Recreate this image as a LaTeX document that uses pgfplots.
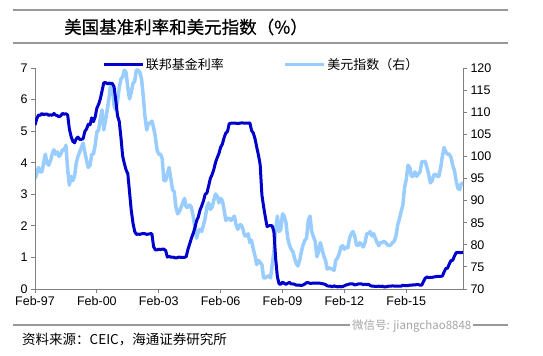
\documentclass[border=0pt]{standalone}
\usepackage{pgfplots}
\usepackage{pgfplotstable}
\pgfplotsset{compat=1.18}
\usepackage{fontspec}
\setmainfont{Liberation Sans}
\newfontfamily\cjk{Noto Sans CJK SC}
\newfontfamily\cjkb[FakeBold=0.6]{Noto Sans CJK SC}
\definecolor{fed}{HTML}{0000CC}
\definecolor{usd}{HTML}{99CCFF}
\definecolor{rulec}{HTML}{999999}
\definecolor{axc}{HTML}{808080}

% Effective federal funds rate, monthly, Feb-97 .. Nov-17 (index 0 = Feb-97)
\pgfplotstableread[row sep=\\]{v\\
5.19\\5.39\\5.51\\5.50\\5.56\\5.52\\5.54\\5.54\\5.50\\5.52\\5.50\\
5.56\\5.51\\5.49\\5.45\\5.49\\5.56\\5.54\\5.55\\5.51\\5.07\\4.83\\4.68\\
4.63\\4.76\\4.81\\4.74\\4.74\\4.76\\4.99\\5.07\\5.22\\5.20\\5.42\\5.30\\
5.45\\5.73\\5.85\\6.02\\6.27\\6.53\\6.54\\6.50\\6.52\\6.51\\6.51\\6.40\\
5.98\\5.49\\5.31\\4.80\\4.21\\3.97\\3.77\\3.65\\3.07\\2.49\\2.09\\1.82\\
1.73\\1.74\\1.73\\1.75\\1.75\\1.75\\1.73\\1.74\\1.75\\1.75\\1.34\\1.24\\
1.24\\1.26\\1.25\\1.26\\1.26\\1.22\\1.01\\1.03\\1.01\\1.01\\1.00\\0.98\\
1.00\\1.01\\1.00\\1.00\\1.00\\1.03\\1.26\\1.43\\1.61\\1.76\\1.93\\2.16\\
2.28\\2.50\\2.63\\2.79\\3.00\\3.04\\3.26\\3.50\\3.62\\3.78\\4.00\\4.16\\
4.29\\4.49\\4.59\\4.79\\4.94\\4.99\\5.24\\5.25\\5.25\\5.25\\5.25\\5.24\\
5.25\\5.26\\5.26\\5.25\\5.25\\5.25\\5.26\\5.02\\4.94\\4.76\\4.49\\4.24\\
3.94\\2.98\\2.61\\2.28\\1.98\\2.00\\2.01\\2.00\\1.81\\0.97\\0.39\\0.16\\
0.15\\0.22\\0.18\\0.15\\0.18\\0.21\\0.16\\0.16\\0.15\\0.12\\0.12\\0.12\\
0.11\\0.13\\0.16\\0.20\\0.20\\0.18\\0.18\\0.19\\0.19\\0.19\\0.19\\0.18\\
0.17\\0.16\\0.14\\0.10\\0.09\\0.09\\0.07\\0.10\\0.08\\0.07\\0.08\\0.07\\
0.08\\0.10\\0.13\\0.14\\0.16\\0.16\\0.16\\0.13\\0.14\\0.16\\0.16\\0.16\\
0.14\\0.15\\0.14\\0.15\\0.11\\0.09\\0.09\\0.08\\0.08\\0.09\\0.08\\0.09\\
0.07\\0.07\\0.08\\0.09\\0.09\\0.10\\0.09\\0.09\\0.09\\0.09\\0.09\\0.12\\
0.11\\0.11\\0.11\\0.12\\0.12\\0.13\\0.13\\0.14\\0.14\\0.12\\0.12\\0.24\\
0.34\\0.38\\0.36\\0.37\\0.37\\0.38\\0.39\\0.40\\0.40\\0.40\\0.41\\0.54\\
0.65\\0.66\\0.79\\0.90\\0.91\\1.04\\1.15\\1.16\\1.15\\1.15\\1.16\\
}\fedtab

% US dollar index, monthly, Feb-97 .. Nov-17 (index 0 = Feb-97)
\pgfplotstableread[row sep=\\]{v\\
95.0\\96.0\\97.5\\96.5\\96.5\\98.5\\100.5\\98.5\\98.0\\99.0\\100.5\\
101.5\\100.5\\101.0\\100.0\\100.5\\101.5\\101.5\\102.5\\97.0\\93.5\\95.5\\94.5\\
95.5\\98.5\\100.0\\101.0\\102.0\\103.0\\101.0\\99.0\\97.5\\98.0\\100.5\\100.5\\
102.5\\105.5\\106.0\\108.5\\110.5\\106.0\\108.0\\110.5\\113.0\\116.5\\116.0\\111.5\\
110.5\\112.5\\115.5\\117.5\\118.0\\119.5\\119.0\\115.5\\113.0\\114.5\\116.5\\117.0\\
119.5\\119.5\\119.0\\117.5\\113.5\\109.0\\106.0\\107.5\\107.5\\108.0\\106.5\\104.5\\
101.5\\100.5\\100.5\\99.5\\94.5\\94.5\\96.0\\97.5\\95.0\\92.5\\92.0\\88.5\\
87.0\\87.5\\88.5\\89.5\\90.5\\88.5\\88.5\\89.0\\88.5\\86.5\\84.0\\81.5\\
83.0\\83.5\\83.0\\84.5\\86.0\\88.5\\89.5\\88.0\\88.5\\90.0\\91.5\\91.0\\
89.5\\90.5\\90.0\\88.0\\85.5\\86.0\\86.0\\85.5\\86.0\\86.5\\84.5\\83.5\\
84.5\\84.5\\83.5\\82.0\\82.0\\82.5\\80.5\\81.0\\79.0\\77.5\\75.5\\76.5\\
76.0\\75.5\\72.5\\72.5\\72.8\\73.0\\72.5\\75.5\\78.5\\83.5\\86.5\\83.0\\
83.5\\87.0\\86.5\\85.0\\81.5\\80.0\\79.0\\78.5\\77.0\\75.8\\75.2\\76.5\\
78.5\\80.0\\81.0\\81.5\\85.5\\86.5\\83.0\\81.8\\80.8\\77.3\\78.5\\80.5\\
79.0\\77.5\\76.5\\74.5\\74.8\\74.6\\74.5\\74.2\\76.5\\77.0\\78.0\\79.5\\
79.8\\79.0\\79.5\\79.3\\81.5\\82.5\\83.0\\82.0\\80.0\\79.8\\80.5\\80.0\\
79.5\\80.5\\82.5\\82.5\\83.0\\82.0\\82.5\\81.5\\80.5\\79.8\\80.5\\80.5\\
80.8\\80.5\\80.0\\79.8\\80.0\\80.5\\80.8\\82.0\\84.5\\85.8\\87.5\\89.0\\
93.0\\94.8\\98.0\\97.5\\95.5\\95.5\\96.5\\95.5\\96.0\\96.5\\98.8\\98.8\\
98.9\\97.5\\96.0\\94.0\\94.5\\95.8\\96.0\\95.5\\95.5\\97.5\\100.0\\102.0\\
101.0\\100.5\\100.5\\99.8\\98.0\\96.8\\94.5\\92.8\\92.5\\93.8\\94.0\\
}\usdtab

\pgfplotsset{
  common/.style={
    at={(35bp,67bp)}, anchor=south west,
    scale only axis, width=428bp, height=221bp,
    xmin=0, xmax=249,
    axis line style={axc, line width=0.8bp},
    major tick style={axc, line width=0.8bp},
    major tick length=4bp,
    tick align=outside,
    tick label style={font=\fontsize{12.5bp}{14bp}\selectfont, text=black},
    /pgf/number format/assume math mode=true,
    legend style={draw=none, fill=none, inner sep=0pt,
      font=\cjk\fontsize{13bp}{15bp}\selectfont,
      nodes={inner sep=1.5bp}},
    legend image code/.code={\draw[##1] (0bp,0bp) -- (39bp,0bp);},
  }
}

\begin{document}
\begin{tikzpicture}
\path[use as bounding box] (0bp,0bp) rectangle (543bp,356bp);
\draw[rulec, line width=1.5bp] (13bp,346bp) -- (508bp,346bp);
\draw[rulec, line width=1.5bp] (13bp,313bp) -- (508bp,313bp);
\node[anchor=west, inner sep=0pt, font=\cjkb\fontsize{17.5bp}{20bp}\selectfont] at (64bp,329bp) {美国基准利率和美元指数（\%）};

% right axis: US dollar index
\begin{axis}[common,
  ymin=70, ymax=120, ytick={70,75,...,120},
  axis y line*=right, hide x axis,
  legend style={at={(0.580,1.015)}, anchor=west},
]
\addplot[usd, line width=3.5bp, line join=round] table[x expr=\coordindex, y=v]{\usdtab};
\addlegendentry{美元指数（右）}
\end{axis}

% left axis: federal funds rate
\begin{axis}[common,
  ymin=0, ymax=7, ytick={0,1,...,7},
  axis y line*=left, axis x line*=bottom,
  xtick={0,36,...,216},
  xticklabels={Feb-97,Feb-00,Feb-03,Feb-06,Feb-09,Feb-12,Feb-15},
  legend style={at={(0.157,1.015)}, anchor=west},
]
\addplot[fed, line width=3bp, line join=round] table[x expr=\coordindex, y=v]{\fedtab};
\addlegendentry{联邦基金利率}
\end{axis}

\draw[rulec, line width=1.5bp] (13bp,31bp) -- (508bp,31bp);
\node[anchor=west, inner sep=0pt, font=\cjk\fontsize{13.5bp}{16bp}\selectfont] at (22bp,16bp) {资料来源：CEIC，海通证券研究所};
\node[anchor=west, fill=white, inner xsep=2bp, inner ysep=1bp, text=gray!70, font=\cjk\fontsize{11.5bp}{13bp}\selectfont] at (350bp,30bp) {微信号: jiangchao8848};
\end{tikzpicture}
\end{document}
